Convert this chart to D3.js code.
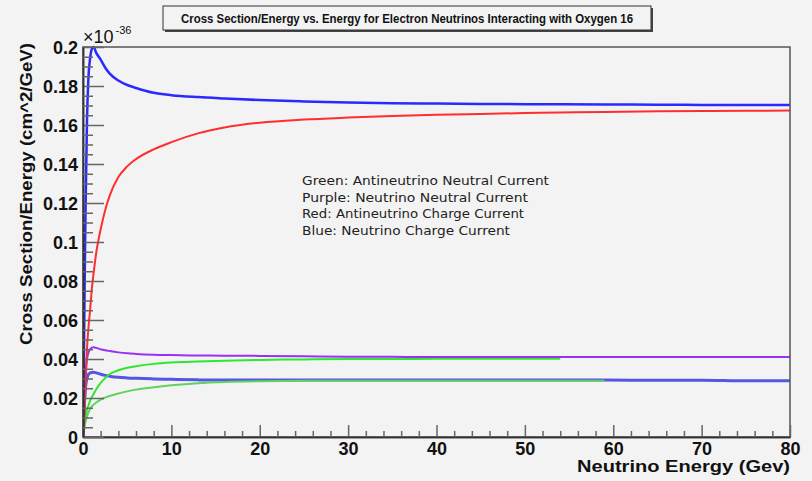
<!DOCTYPE html>
<html>
<head>
<meta charset="utf-8">
<script src="https://cdn.jsdelivr.net/npm/d3@7"></script>
<style>
  html, body { margin: 0; padding: 0; background: #f3f3f3; }
  svg { display: block; }
  .tick text { font-family: "Liberation Sans", Arial, sans-serif; font-weight: bold; font-size: 18px; fill: #111; }
</style>
</head>
<body>
<svg id="chart" width="812" height="481"></svg>
<script>
// Energy grid (GeV) shared by all curves
const energy = [0, 0.1, 0.2, 0.3, 0.45, 0.6, 0.8, 1.0, 1.2, 1.5, 2, 2.5, 3, 4, 5, 6, 8, 10, 13, 16, 20, 25, 30, 35, 40, 45, 50, 54, 59, 65, 70, 75, 80];

// Cross section / energy, in units of 1e-36 cm^2/GeV (null = not computed)
const nuCC = [0, 0.04, 0.085, 0.12, 0.162, 0.183, 0.194, 0.199, 0.2, 0.197, 0.1935, 0.1895, 0.1865, 0.1828, 0.1805, 0.179, 0.1765, 0.1753, 0.1743, 0.1736, 0.1728, 0.1721, 0.1716, 0.1712, 0.171, 0.1708, 0.1707, 0.1706, 0.1705, 0.1704, 0.1703, 0.1702, 0.1702];
const antiNuCC = [0, 0.005, 0.015, 0.028, 0.045, 0.055, 0.065, 0.076, 0.084, 0.0945, 0.1065, 0.1162, 0.1235, 0.1333, 0.1388, 0.1425, 0.1475, 0.1512, 0.1557, 0.1587, 0.1612, 0.1628, 0.1638, 0.1646, 0.1652, 0.1657, 0.1661, 0.1664, 0.1667, 0.167, 0.1672, 0.1673, 0.1674];
const nuNC = [0, 0.012, 0.024, 0.033, 0.04, 0.043, 0.045, 0.0458, 0.046, 0.0457, 0.045, 0.0445, 0.0441, 0.0434, 0.0429, 0.0426, 0.0422, 0.042, 0.0418, 0.0417, 0.0416, 0.0414, 0.0412, 0.0411, 0.041, 0.041, 0.041, 0.041, 0.041, 0.041, 0.041, 0.041, 0.041];
const antiNuNC = [null, 0.004, 0.008, 0.011, 0.014, 0.016, 0.0185, 0.0205, 0.022, 0.0245, 0.0277, 0.0302, 0.0322, 0.0342, 0.0355, 0.0363, 0.0375, 0.0382, 0.0387, 0.0391, 0.0395, 0.0398, 0.04, 0.04, 0.0401, 0.0401, 0.0401, 0.0401, null, null, null, null, null];
const antiNuNCLow = [null, 0.003, 0.006, 0.008, 0.0105, 0.0125, 0.0143, 0.0157, 0.0166, 0.0177, 0.0192, 0.0202, 0.021, 0.0223, 0.0234, 0.0243, 0.0255, 0.0265, 0.0276, 0.0282, 0.0286, 0.0288, 0.0289, 0.0289, 0.0289, 0.0289, 0.0289, 0.0289, 0.0289, null, null, null, null];
const nuCCLow = [0, 0.01, 0.02, 0.026, 0.03, 0.032, 0.0328, 0.0331, 0.0332, 0.0329, 0.0322, 0.0316, 0.0312, 0.0306, 0.0303, 0.0301, 0.0298, 0.0296, 0.0293, 0.0292, 0.0292, 0.0292, 0.0292, 0.0292, 0.0292, 0.0292, 0.0292, 0.0292, 0.0292, 0.0291, 0.0291, 0.0288, 0.0288];

const xMajorTicks = [0, 10, 20, 30, 40, 50, 60, 70, 80];
const yMajorTicks = [0, 0.02, 0.04, 0.06, 0.08, 0.1, 0.12, 0.14, 0.16, 0.18, 0.2];

const legendLines = [
  "Green: Antineutrino Neutral Current",
  "Purple: Neutrino Neutral Current",
  "Red: Antineutrino Charge Current",
  "Blue: Neutrino Charge Current"
];

const titleText = "Cross Section/Energy vs. Energy for Electron Neutrinos Interacting with Oxygen 16";

// Plot frame
const frame = { left: 83, right: 790, top: 47, bottom: 437 };

const svg = d3.select("#chart");
svg.append("rect").attr("width", 812).attr("height", 481).attr("fill", "#f3f3f3");

const x = d3.scaleLinear().domain([0, 80]).range([frame.left, frame.right]);
const y = d3.scaleLinear().domain([0, 0.2]).range([frame.bottom, frame.top]);

// Clip for curves
svg.append("defs").append("clipPath").attr("id", "plotClip")
  .append("rect")
  .attr("x", frame.left).attr("y", frame.top - 3)
  .attr("width", frame.right - frame.left).attr("height", frame.bottom - frame.top + 3);

// Curves
const series = [
  { values: nuCCLow, color: "#5656e4", width: 3 },
  { values: antiNuNCLow, color: "#5fd35f", width: 2 },
  { values: antiNuNC, color: "#2ee82e", width: 2 },
  { values: nuNC, color: "#9a2ff5", width: 2 },
  { values: antiNuCC, color: "#ff2e2e", width: 2 },
  { values: nuCC, color: "#2a2aff", width: 2.5 }
];

const line = d3.line()
  .defined(d => d[1] !== null)
  .curve(d3.curveMonotoneX)
  .x(d => x(d[0]))
  .y(d => y(d[1]));

const curves = svg.append("g").attr("clip-path", "url(#plotClip)");
series.forEach(s => {
  curves.append("path")
    .datum(energy.map((e, i) => [e, s.values[i]]))
    .attr("fill", "none")
    .attr("stroke", s.color)
    .attr("stroke-width", s.width)
    .attr("stroke-linejoin", "round")
    .attr("d", line);
});

// Frame box
svg.append("rect")
  .attr("x", frame.left).attr("y", frame.top)
  .attr("width", frame.right - frame.left).attr("height", frame.bottom - frame.top)
  .attr("fill", "none").attr("stroke", "#555").attr("stroke-width", 1.5);

// X axis: major and minor ticks drawn inward
const xMinor = d3.range(0, 81, 2).filter(v => v % 10 !== 0);
const xAxisMajor = d3.axisBottom(x).tickValues(xMajorTicks).tickSizeInner(-12).tickSizeOuter(0).tickPadding(5)
  .tickFormat(d3.format("d"));
const xAxisMinor = d3.axisBottom(x).tickValues(xMinor).tickSizeInner(-6).tickSizeOuter(0).tickFormat("");

const gx = svg.append("g").attr("transform", `translate(0,${frame.bottom})`).call(xAxisMajor);
const gxm = svg.append("g").attr("transform", `translate(0,${frame.bottom})`).call(xAxisMinor);

// Y axis
const yMinor = d3.range(0, 41).map(i => i * 0.005).filter((v, i) => i % 4 !== 0);
const yAxisMajor = d3.axisLeft(y).tickValues(yMajorTicks).tickSizeInner(-21).tickSizeOuter(0).tickPadding(5)
  .tickFormat(d => String(+d.toFixed(2)));
const yAxisMinor = d3.axisLeft(y).tickValues(yMinor).tickSizeInner(-10).tickSizeOuter(0).tickFormat("");

const gy = svg.append("g").attr("transform", `translate(${frame.left},0)`).call(yAxisMajor);
const gym = svg.append("g").attr("transform", `translate(${frame.left},0)`).call(yAxisMinor);

[gx, gxm, gy, gym].forEach(g => {
  g.select(".domain").attr("stroke", "#333").attr("stroke-width", 1.5);
  g.selectAll(".tick line").attr("stroke", "#666").attr("stroke-width", 1.5);
});
gy.selectAll(".tick text").attr("dy", "0.36em");

// Exponent label
const expo = svg.append("text")
  .attr("x", frame.left).attr("y", 43)
  .attr("font-family", "Liberation Sans, Arial, sans-serif")
  .attr("font-size", 18).attr("fill", "#111");
expo.append("tspan").text("\u00d710");
expo.append("tspan").attr("font-size", 11).attr("dy", -9).attr("dx", 2).text("-36");

// Axis titles
svg.append("text")
  .attr("x", frame.right).attr("y", 472)
  .attr("text-anchor", "end")
  .attr("font-family", "Liberation Sans, Arial, sans-serif")
  .attr("font-weight", "bold").attr("font-size", 17).attr("fill", "#111")
  .attr("textLength", 213).attr("lengthAdjust", "spacingAndGlyphs")
  .text("Neutrino Energy (Gev)");

svg.append("text")
  .attr("transform", `translate(32,${frame.top - 4}) rotate(-90)`)
  .attr("text-anchor", "end")
  .attr("font-family", "Liberation Sans, Arial, sans-serif")
  .attr("font-weight", "bold").attr("font-size", 16).attr("fill", "#111")
  .attr("textLength", 302).attr("lengthAdjust", "spacingAndGlyphs")
  .text("Cross Section/Energy (cm^2/GeV)");

// Title box with drop shadow
const tb = { x: 163, y: 6, w: 488, h: 24 };
svg.append("rect").attr("x", tb.x + 2).attr("y", tb.y + 2).attr("width", tb.w).attr("height", tb.h).attr("fill", "#444");
svg.append("rect").attr("x", tb.x).attr("y", tb.y).attr("width", tb.w).attr("height", tb.h)
  .attr("fill", "#f3f3f3").attr("stroke", "#333").attr("stroke-width", 1);
svg.append("text")
  .attr("x", tb.x + tb.w / 2).attr("y", tb.y + 17)
  .attr("text-anchor", "middle")
  .attr("font-family", "Liberation Sans, Arial, sans-serif")
  .attr("font-weight", "bold").attr("font-size", 13).attr("fill", "#111")
  .attr("textLength", 452).attr("lengthAdjust", "spacingAndGlyphs")
  .text(titleText);

// Colour key text
const legend = svg.append("g")
  .attr("font-family", "DejaVu Sans, Verdana, sans-serif")
  .attr("font-size", 13).attr("fill", "#222");
const legendWidths = [247, 226, 222, 208];
legendLines.forEach((t, i) => {
  legend.append("text")
    .attr("x", 302).attr("y", 185 + i * 16.7)
    .attr("textLength", legendWidths[i]).attr("lengthAdjust", "spacingAndGlyphs")
    .text(t);
});
</script>
</body>
</html>
